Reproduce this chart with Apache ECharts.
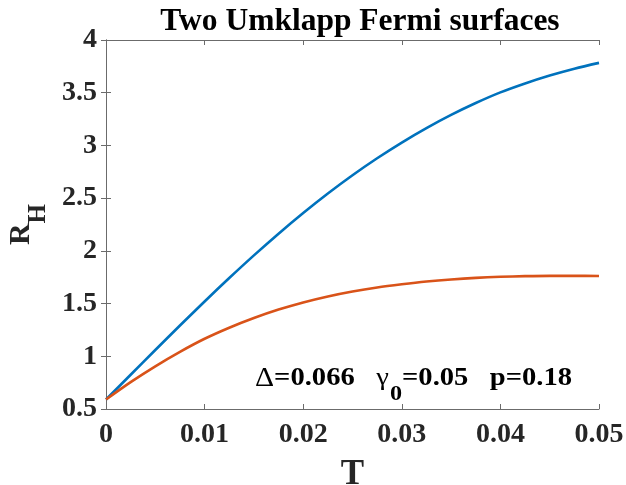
<!DOCTYPE html>
<html>
<head>
<meta charset="utf-8">
<script src="https://cdn.jsdelivr.net/npm/echarts@6/dist/echarts.min.js"></script>
<style>
  html, body { margin: 0; padding: 0; background: #fff; }
  #chart { width: 626px; height: 485px; }
</style>
</head>
<body>
<div id="chart"></div>
<script>
// Temperature samples and Hall coefficient for the two Umklapp Fermi-surface models
const temperature = [0, 0.0025, 0.005, 0.0075, 0.01, 0.0125, 0.015, 0.0175, 0.02, 0.0225,
                     0.025, 0.0275, 0.03, 0.0325, 0.035, 0.0375, 0.04, 0.0425, 0.045, 0.0475, 0.05];
const rhUpper = [0.59, 0.825, 1.06, 1.292, 1.52, 1.742, 1.957, 2.163, 2.359, 2.544,
                 2.717, 2.878, 3.027, 3.164, 3.289, 3.402, 3.503, 3.588, 3.663, 3.728, 3.783];
const rhLower = [0.59, 0.755, 0.905, 1.042, 1.166, 1.271, 1.363, 1.443, 1.511, 1.568,
                 1.615, 1.653, 1.683, 1.709, 1.729, 1.744, 1.754, 1.760, 1.763, 1.763, 1.761];

const xTickLabels = ['0', '0.01', '0.02', '0.03', '0.04', '0.05'];
const yTickLabels = ['0.5', '1', '1.5', '2', '2.5', '3', '3.5', '4'];

const SERIF = "'Liberation Serif', 'Times New Roman', serif";
const AXIS_COLOR = '#6b6b6b';
const TEXT_COLOR = '#262626';

const chart = echarts.init(document.getElementById('chart'), null, { renderer: 'canvas' });

const tickStyle = { show: true, inside: true, length: 5, lineStyle: { color: AXIS_COLOR, width: 1 } };
const lineStyle = { show: true, lineStyle: { color: AXIS_COLOR, width: 1 } };

const xBase = { type: 'value', min: 0, max: 0.05, interval: 0.01, axisLine: lineStyle, axisTick: tickStyle, splitLine: { show: false } };
const yBase = { type: 'value', min: 0.5, max: 4, interval: 0.5, axisLine: lineStyle, axisTick: tickStyle, splitLine: { show: false } };

const option = {
  animation: false,
  backgroundColor: '#ffffff',
  title: {
    text: 'Two Umklapp Fermi surfaces',
    left: 355,
    top: 1,
    textAlign: 'center',
    textStyle: { fontFamily: SERIF, fontWeight: 'bold', fontSize: 31.5, color: '#000' }
  },
  grid: { left: 106, right: 27, top: 40, bottom: 76, containLabel: false, outerBoundsMode: 'none' },
  xAxis: [
    Object.assign({}, xBase, {
      position: 'bottom',
      name: 'T',
      nameLocation: 'middle',
      nameGap: 48,
      nameTextStyle: { fontFamily: SERIF, fontWeight: 'bold', fontSize: 35, color: TEXT_COLOR },
      axisLabel: {
        margin: 12,
        fontFamily: SERIF, fontWeight: 'bold', fontSize: 28, color: TEXT_COLOR,
        formatter: (v, i) => xTickLabels[i]
      }
    }),
    Object.assign({}, xBase, { position: 'top', axisLabel: { show: false } })
  ],
  yAxis: [
    Object.assign({}, yBase, {
      position: 'left',
      name: '{r|R}{s|H}',
      nameLocation: 'middle',
      nameRotate: 90,
      nameGap: 56,
      nameTextStyle: {
        color: TEXT_COLOR,
        rich: {
          r: { fontFamily: SERIF, fontWeight: 'bold', fontSize: 30, color: TEXT_COLOR, verticalAlign: 'top', lineHeight: 30 },
          s: { fontFamily: SERIF, fontWeight: 'bold', fontSize: 25, color: TEXT_COLOR, verticalAlign: 'top', lineHeight: 25, padding: [20, 0, 0, 0] }
        }
      },
      axisLabel: {
        margin: 9,
        fontFamily: SERIF, fontWeight: 'bold', fontSize: 28, color: TEXT_COLOR,
        formatter: (v, i) => yTickLabels[i]
      }
    }),
    Object.assign({}, yBase, { position: 'right', axisLabel: { show: false } })
  ],
  series: [
    {
      name: 'upper', type: 'line', xAxisIndex: 0, yAxisIndex: 0,
      data: temperature.map((t, i) => [t, rhUpper[i]]),
      showSymbol: false, smooth: 0.3,
      lineStyle: { color: '#0072BD', width: 2.6 }, z: 3
    },
    {
      name: 'lower', type: 'line', xAxisIndex: 0, yAxisIndex: 0,
      data: temperature.map((t, i) => [t, rhLower[i]]),
      showSymbol: false, smooth: 0.3,
      lineStyle: { color: '#D95319', width: 2.6 }, z: 4
    }
  ],
  graphic: [
    {
      type: 'text',
      x: 255,
      y: 365,
      scaleX: 1.1,
      z: 10,
      style: {
        text: '{d|Δ}{b|=0.066   }{g|γ}{s|0}{b|=0.05   p=0.18}',
        rich: {
          d: { fontFamily: SERIF, fontWeight: 'normal', fontSize: 27, fill: '#000', verticalAlign: 'top', lineHeight: 27 },
          b: { fontFamily: SERIF, fontWeight: 'bold', fontSize: 26, fill: '#000', verticalAlign: 'top', lineHeight: 27 },
          g: { fontFamily: SERIF, fontWeight: 'normal', fontSize: 26, fill: '#000', verticalAlign: 'top', lineHeight: 27 },
          s: { fontFamily: SERIF, fontWeight: 'bold', fontSize: 22, fill: '#000', verticalAlign: 'top', lineHeight: 22, padding: [18, 0, 0, 1] }
        }
      }
    }
  ]
};

chart.setOption(option);
</script>
</body>
</html>
